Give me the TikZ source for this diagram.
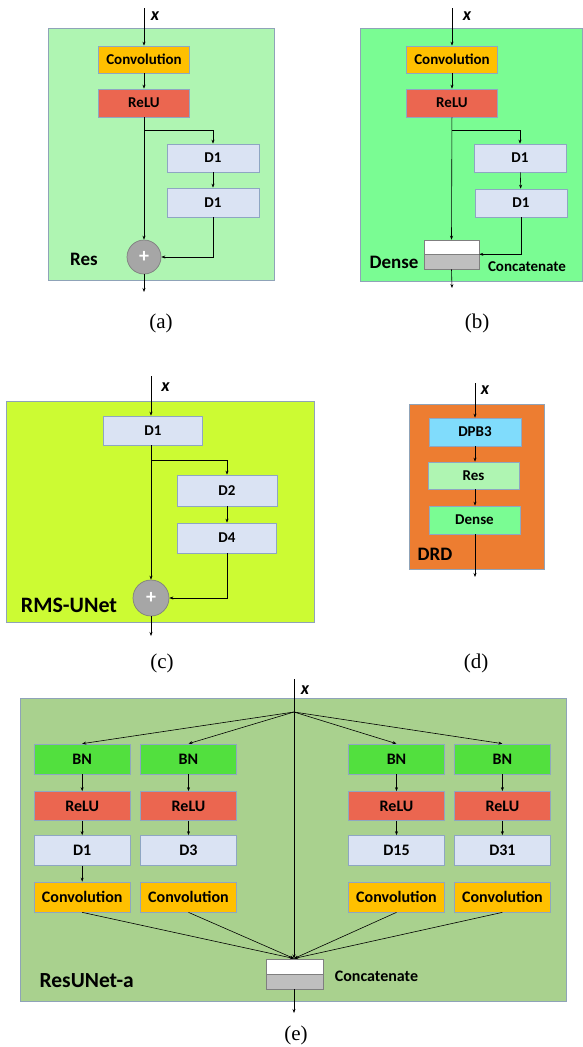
\documentclass[tikz,border=0pt]{standalone}
\usepackage{fontspec}
\setmainfont{Carlito}
\newfontfamily\capfont{Liberation Serif}
\usetikzlibrary{arrows.meta}
\definecolor{cConv}{HTML}{FFC000}
\definecolor{cRelu}{HTML}{EB6650}
\definecolor{cD}{HTML}{DAE3F3}
\definecolor{cRes}{HTML}{AFF5B2}
\definecolor{cDense}{HTML}{7AFC93}
\definecolor{cRms}{HTML}{CCFB33}
\definecolor{cDrd}{HTML}{ED7D31}
\definecolor{cDpb}{HTML}{80DCFC}
\definecolor{cBN}{HTML}{52E03E}
\definecolor{cResU}{HTML}{A9D18E}
\definecolor{cEdge}{HTML}{8EA6C2}
\definecolor{cFrame}{HTML}{8FA3B8}
\definecolor{cPlus}{HTML}{A6A6A6}
\definecolor{cPlusE}{HTML}{7F7F7F}
\definecolor{cGray}{HTML}{BFBFBF}
\begin{document}
\begin{tikzpicture}[x=1pt,y=-1pt,
  blk/.style={draw=cEdge, line width=0.7pt, font=\bfseries\fontsize{15}{18}\selectfont, inner sep=0pt, anchor=center},
  sz/.style 2 args={minimum width=#1pt, minimum height=#2pt},
  arr/.style={-{Stealth[length=4pt,width=3pt]}, line width=0.6pt},
  ln/.style={line width=0.6pt},
  frm/.style={draw=cFrame, line width=0.8pt},
  xlab/.style={font=\bfseries\itshape\fontsize{18}{20}\selectfont, inner sep=0pt},
  capt/.style={font=\capfont\fontsize{21}{24}\selectfont, inner sep=0pt},
  ttl/.style={font=\bfseries\fontsize{#1}{#1}\selectfont, inner sep=0pt},
  ttl/.default=19,
  smallt/.style={font=\bfseries\fontsize{15}{18}\selectfont, inner sep=0pt},
  plus/.style={circle, fill=cPlus, draw=cPlusE, line width=0.7pt, minimum size=#1pt, inner sep=0pt, text=white, font=\bfseries\fontsize{20}{20}\selectfont},
]
\useasboundingbox (0,0) rectangle (583,1047);

% ================= (a) Res =================
\draw[frm, fill=cRes] (48,28) rectangle (274,280);
\coordinate (ain) at (144,8);
\node[xlab] (ax) at (155,16) {x};
\node[blk, fill=cConv, sz={91}{27}] (aconv) at (144,59.5) {Convolution};
\node[blk, fill=cRelu, sz={91}{28}] (arelu) at (144,103) {ReLU};
\node[blk, fill=cD, sz={92}{28}] (ad1) at (213,158) {D1};
\node[blk, fill=cD, sz={92}{29}] (ad2) at (213,202.5) {D1};
\node[plus=34] (aplus) at (144,257) {+};
\coordinate (abr) at (144,130);
\coordinate (aout) at (144,292);
\node[ttl] (ares) at (84,259) {Res};
\draw[arr] (ain) -- (aconv.north);
\draw[arr] (aconv) -- (arelu);
\draw[arr] (arelu) -- (aplus.north);
\draw[arr] (abr) -| (ad1.north);
\draw[arr] (ad1) -- (ad2);
\draw[arr] (ad2.south) |- (aplus.east);
\draw[arr] (aplus.south) -- (aout);
\node[capt] (capa) at (161,323) {(a)};

% ================= (b) Dense =================
\draw[frm, fill=cDense] (360,28) rectangle (582.5,281);
\coordinate (bin) at (452,8);
\node[xlab] (bx) at (467,16) {x};
\node[blk, fill=cConv, sz={91}{27}] (bconv) at (452,59.5) {Convolution};
\node[blk, fill=cRelu, sz={91}{28}] (brelu) at (452,103) {ReLU};
\node[blk, fill=cD, sz={92}{28}] (bd1) at (520,158) {D1};
\node[blk, fill=cD, sz={92}{28}] (bd2) at (521,203) {D1};
\node[draw=cPlusE, line width=0.6pt, fill=white, sz={55}{14}, inner sep=0pt] (bcw) at (451.5,247) {};
\node[draw=cPlusE, line width=0.6pt, fill=cGray, sz={55}{15}, inner sep=0pt] (bcg) at (451.5,261.5) {};
\coordinate (bbr) at (452,130);
\coordinate (bout) at (452,288);
\node[ttl] (bdense) at (394,262) {Dense};
\node[smallt] (bcat) at (527,267) {Concatenate};
\draw[arr] (bin) -- (bconv.north);
\draw[arr] (bconv) -- (brelu);
\draw[arr] (brelu) -- (bcw.north);
\draw[arr] (bbr) -| (bd1.north);
\draw[arr] (bd1) -- (bd2);
\draw[arr] (bd2.south) |- (bcw.south east);
\draw[arr] (bcg.south) -- (bout);
\node[capt] (capb) at (477,323) {(b)};

% ================= (c) RMS-UNet =================
\draw[frm, fill=cRms] (6,401) rectangle (314,622);
\coordinate (cin) at (151,376);
\node[xlab] (cx) at (165.5,387) {x};
\node[blk, fill=cD, sz={99}{29}] (cd1) at (153,430.5) {D1};
\node[blk, fill=cD, sz={100}{31}] (cd2) at (227,490.5) {D2};
\node[blk, fill=cD, sz={99}{30}] (cd4) at (227,538) {D4};
\node[plus=36] (cplus) at (151,598) {+};
\coordinate (cbr) at (151,460);
\coordinate (cout) at (151,636);
\node[ttl=22] (crms) at (69,605) {RMS-UNet};
\draw[arr] (cin) -- (cd1.north -| cin);
\draw[arr] (cd1.south -| cin) -- (cplus.north);
\draw[arr] (cbr) -| (cd2.north);
\draw[arr] (cd2) -- (cd4);
\draw[arr] (cd4.south) |- (cplus.east);
\draw[arr] (cplus.south) -- (cout);
\node[capt] (capc) at (162,663) {(c)};

% ================= (d) DRD =================
\draw[frm, fill=cDrd] (409,404) rectangle (544,569);
\coordinate (din) at (475,383);
\node[xlab] (dx) at (485,390) {x};
\node[blk, fill=cDpb, sz={92}{28}] (ddpb) at (475,432) {DPB3};
\node[blk, fill=cRes, sz={91}{27}] (dres) at (473.5,475.5) {Res};
\node[blk, fill=cDense, sz={91}{28}] (ddense) at (474.5,520) {Dense};
\coordinate (dout) at (475,577);
\node[ttl] (ddrd) at (435,554) {DRD};
\draw[arr] (din) -- (ddpb.north -| din);
\draw[arr] (ddpb.south -| din) -- (dres.north -| din);
\draw[arr] (dres.south -| din) -- (ddense.north -| din);
\draw[arr] (ddense.south -| din) -- (dout);
\node[capt] (capd) at (476,663) {(d)};

% ================= (e) ResUNet-a =================
\draw[frm, fill=cResU] (20.5,698) rectangle (566,1001);
\coordinate (ein) at (294,679);
\coordinate (ehub) at (294,712);
\node[xlab] (ex) at (305,690) {x};
\foreach \n/\cx/\lab in {1/82.2/D1, 2/188.5/D3, 3/396.5/D15, 4/502.4/D31}{
  \node[blk, fill=cBN, sz={96}{30}, font=\bfseries\fontsize{16}{18}\selectfont] (ebn\n) at (\cx,759) {BN};
  \node[blk, fill=cRelu, sz={96}{29}, font=\bfseries\fontsize{16}{18}\selectfont] (erelu\n) at (\cx,806) {ReLU};
  \node[blk, fill=cD, sz={96}{30}, font=\bfseries\fontsize{16}{18}\selectfont] (ed\n) at (\cx,850.5) {\lab};
  \node[blk, fill=cConv, sz={96}{30}, font=\bfseries\fontsize{16}{18}\selectfont] (econv\n) at (\cx,897) {Convolution};
  \draw[arr] (ehub) -- (ebn\n.north);
  \draw[arr] (ebn\n) -- (erelu\n);
  \draw[arr] (erelu\n) -- (ed\n);
}
\draw[arr] (ed1) -- (econv1);
\node[draw=cPlusE, line width=0.6pt, fill=white, sz={57}{15}, inner sep=0pt] (ecw) at (295,966.5) {};
\node[draw=cPlusE, line width=0.6pt, fill=cGray, sz={57}{15}, inner sep=0pt] (ecg) at (295,981.5) {};
\coordinate (ejoin) at (294,958.5);
\foreach \n in {1,2,3,4}{
  \draw[arr] (econv\n.south) -- (ejoin);
}
\draw[ln] (ein) -- (ehub);
\draw[arr] (ehub) -- (ejoin);
\coordinate (eout) at (294,1013);
\draw[arr] (ecg.south -| ehub) -- (eout);
\node[font=\bfseries\fontsize{16}{18}\selectfont, inner sep=0pt] (ecat) at (376.5,976) {Concatenate};
\node[ttl=21.5] (eres) at (86.7,981) {ResUNet-a};
\node[capt] (cape) at (296,1035) {(e)};
\end{tikzpicture}
\end{document}
